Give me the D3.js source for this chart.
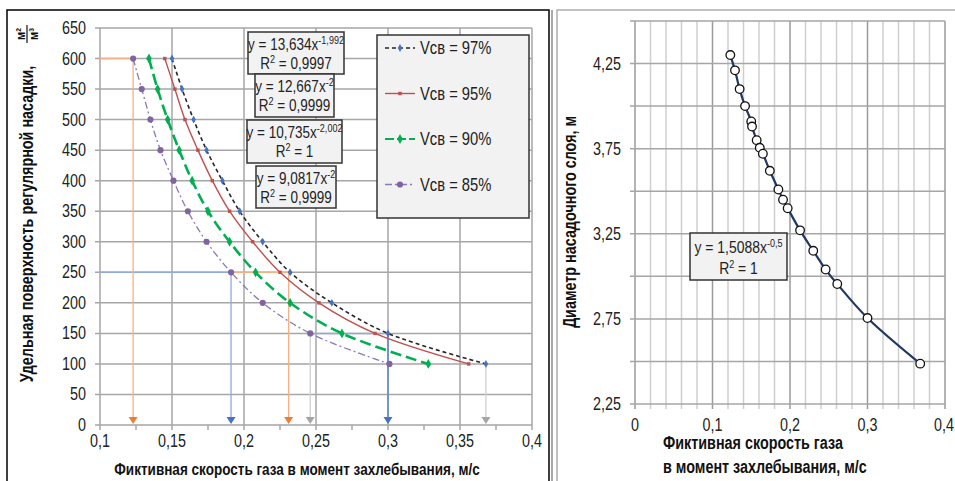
<!DOCTYPE html>
<html>
<head>
<meta charset="utf-8">
<script src="https://cdn.jsdelivr.net/npm/d3@7"></script>
<style>
  body { margin: 0; background: #fff; }
  svg { display: block; font-family: 'Liberation Sans', Arial, sans-serif; }
</style>
</head>
<body>
<div id="chart"></div>
<script>
// Left chart: specific surface vs flooding velocity
const surfaceLevels = [600, 550, 500, 450, 400, 350, 300, 250, 200, 150, 100];
const v97 = [0.150, 0.157, 0.165, 0.174, 0.185, 0.197, 0.213, 0.232, 0.261, 0.300, 0.368];
const v95 = [0.145, 0.152, 0.159, 0.168, 0.178, 0.190, 0.206, 0.225, 0.252, 0.291, 0.356];
const v90 = [0.134, 0.140, 0.147, 0.155, 0.164, 0.175, 0.190, 0.208, 0.232, 0.268, 0.328];
const v85 = [0.123, 0.129, 0.135, 0.142, 0.151, 0.161, 0.174, 0.191, 0.213, 0.246, 0.301];
const seriesNames = ['Vсв = 97%', 'Vсв = 95%', 'Vсв = 90%', 'Vсв = 85%'];
const eqCoef = ['13,634', '12,667', '10,735', '9,0817'];
const eqPow = ['-1,992', '-2', '-2,002', '-2'];
const eqR2 = ['0,9997', '0,9999', '1', '0,9999'];
const leftXTicks = [0.1, 0.15, 0.2, 0.25, 0.3, 0.35, 0.4];
const leftYTicks = [0, 50, 100, 150, 200, 250, 300, 350, 400, 450, 500, 550, 600, 650];

// guide lines (drop lines to the x axis)
const guideX = [0.123, 0.191, 0.231, 0.246, 0.300, 0.368];
const guideFromY = [600, 250, 250, 150, 150, 100];
const hGuideY = [600, 250, 250, 150];
const hGuideX0 = [0.1, 0.1, 0.191, 0.246];
const hGuideX1 = [0.123, 0.191, 0.232, 0.300];

// Right chart: bed diameter vs flooding velocity
const flowX = [0.123, 0.129, 0.135, 0.142, 0.150, 0.151, 0.157, 0.161, 0.165, 0.174, 0.185, 0.191, 0.197, 0.213, 0.230, 0.246, 0.261, 0.300, 0.368];
const diamY = [4.30, 4.21, 4.10, 4.00, 3.91, 3.88, 3.80, 3.755, 3.72, 3.62, 3.51, 3.45, 3.40, 3.27, 3.15, 3.04, 2.955, 2.755, 2.487];
const rightXTicks = [0, 0.1, 0.2, 0.3, 0.4];
const rightYLabels = [2.25, 2.75, 3.25, 3.75, 4.25];

const comma = d => String(d).replace('.', ',');
const orange = '#ed7d31', blue = '#4472c4', gray = '#a5a5a5';
const gridColor = '#a6a6a6';
const NARROW = 0.82; // Arial -> Arial Narrow look

// text helper: narrowed Liberation Sans
function txt(parent, x, y, str, o = {}) {
  const t = parent.append('text')
    .attr('transform', `translate(${x},${y})${o.rotate ? ' rotate(-90)' : ''} scale(${NARROW},1)`)
    .attr('text-anchor', o.anchor || 'start')
    .attr('font-size', o.size || 16)
    .attr('font-weight', o.bold ? 'bold' : null)
    .attr('fill', o.fill || '#222');
  if (str != null) t.text(str);
  return t;
}

const svg = d3.select('#chart').append('svg')
  .attr('width', 955).attr('height', 481);

svg.append('rect').attr('width', 955).attr('height', 481).attr('fill', '#fff');

// frames
svg.append('rect').attr('x', 7).attr('y', 10).attr('width', 542).attr('height', 480)
  .attr('fill', 'none').attr('stroke', '#000').attr('stroke-width', 1.5);
svg.append('line').attr('x1', 552).attr('x2', 552).attr('y1', 10).attr('y2', 481)
  .attr('stroke', '#555').attr('stroke-width', 1);
svg.append('rect').attr('x', 557).attr('y', 10).attr('width', 410).attr('height', 480)
  .attr('fill', 'none').attr('stroke', '#999').attr('stroke-width', 1.2);

// ================= LEFT CHART =================
const x1 = d3.scaleLinear().domain([0.1, 0.4]).range([100, 532]);
const y1 = d3.scaleLinear().domain([0, 650]).range([425, 28]);
const L = svg.append('g');

// grid
L.append('g').selectAll('line').data(leftYTicks).join('line')
  .attr('x1', x1(0.1) - 5).attr('x2', x1(0.4))
  .attr('y1', d => y1(d)).attr('y2', d => y1(d))
  .attr('stroke', gridColor).attr('stroke-width', 1.5);
L.append('g').selectAll('line').data(leftXTicks).join('line')
  .attr('x1', d => x1(d)).attr('x2', d => x1(d))
  .attr('y1', y1(650)).attr('y2', y1(0) + 5)
  .attr('stroke', gridColor).attr('stroke-width', 1.5);
L.append('g').selectAll('line').data(d3.range(0.125, 0.4, 0.05)).join('line')
  .attr('x1', d => x1(d)).attr('x2', d => x1(d))
  .attr('y1', y1(0)).attr('y2', y1(0) + 5)
  .attr('stroke', gridColor).attr('stroke-width', 1.5);

// tick labels
leftYTicks.forEach(d => txt(L, 86, y1(d) + 6, d, { anchor: 'end', size: 17.5 }));
leftXTicks.forEach(d => txt(L, x1(d), 447, comma(d), { anchor: 'middle', size: 17.5 }));

// axis titles
txt(L, 297, 475, 'Фиктивная скорость газа в момент захлебывания, м/с',
  { anchor: 'middle', size: 16.5, bold: true, fill: '#111' });
txt(L, 33, 224, 'Удельная поверхность регулярной насадки,',
  { anchor: 'middle', size: 17.5, bold: true, fill: '#111', rotate: true });
const frac = L.append('g').attr('transform', 'translate(27,34) rotate(-90)');
frac.append('line').attr('x1', -9).attr('x2', 9).attr('y1', 0).attr('y2', 0)
  .attr('stroke', '#111').attr('stroke-width', 1.2);
txt(frac, 0, -2, 'м²', { anchor: 'middle', size: 13.5, bold: true, fill: '#111' });
txt(frac, 0, 11, 'м³', { anchor: 'middle', size: 13.5, bold: true, fill: '#111' });

// guide lines
const guideColors = [orange, blue, orange, gray, blue, gray];
const guideLineColors = ['#f4b183', '#8faadc', '#f4b183', '#d0d0d0', '#6d8fcf', '#d0d0d0'];
const hGuideColors = ['#f4b183', '#8faadc', '#f4b183', '#8faadc'];
L.append('g').selectAll('line').data(hGuideY).join('line')
  .attr('x1', (d, i) => x1(hGuideX0[i])).attr('x2', (d, i) => x1(hGuideX1[i]))
  .attr('y1', d => y1(d)).attr('y2', d => y1(d))
  .attr('stroke', (d, i) => hGuideColors[i]).attr('stroke-width', 1.5);
L.append('g').selectAll('line').data(guideX).join('line')
  .attr('x1', d => x1(d)).attr('x2', d => x1(d))
  .attr('y1', (d, i) => y1(guideFromY[i])).attr('y2', y1(0) - 6)
  .attr('stroke', (d, i) => guideLineColors[i]).attr('stroke-width', (d, i) => i === 4 ? 1.8 : 1.3);
L.append('g').selectAll('path').data(guideX).join('path')
  .attr('d', d => `M${x1(d) - 4.5},${y1(0) - 8}L${x1(d) + 4.5},${y1(0) - 8}L${x1(d)},${y1(0) - 1}Z`)
  .attr('fill', (d, i) => guideColors[i]);

// series
const series = [v97, v95, v90, v85];
const lineColors = ['#262626', '#c0504d', '#00b050', '#8c78b8'];
const lineDash = ['4,3', null, '11,5', '7,3,2,3'];
const lineWidth = [1.6, 1.4, 2.6, 1.3];
const markColors = ['#4472c4', '#c0504d', '#00b050', '#8064a2'];
const markSymbols = [d3.symbolDiamond, d3.symbolSquare, d3.symbolDiamond, d3.symbolCircle];
const markSizes = [18, 12, 28, 30];

const curve = d3.line()
  .x(d => x1(d[0])).y(d => y1(d[1]))
  .curve(d3.curveCatmullRom.alpha(0.5));

series.slice().reverse().forEach((vals, ri) => {
  const i = series.length - 1 - ri;
  const pts = vals.map((v, k) => [v, surfaceLevels[k]]);
  L.append('path').datum(pts).attr('d', curve)
    .attr('fill', 'none').attr('stroke', lineColors[i])
    .attr('stroke-width', lineWidth[i]).attr('stroke-dasharray', lineDash[i]);
  L.append('g').selectAll('path').data(pts).join('path')
    .attr('transform', d => `translate(${x1(d[0])},${y1(d[1])})`)
    .attr('d', d3.symbol().type(markSymbols[i]).size(markSizes[i]))
    .attr('fill', markColors[i]);
});

// equation boxes
const boxes = [[248, 32, 96, 42], [255, 74, 79, 43], [247, 120, 95, 43], [256, 166, 80, 42]];
eqCoef.forEach((c, i) => {
  const [bx, by, bw, bh] = boxes[i];
  const g = L.append('g');
  g.append('rect').attr('x', bx).attr('y', by).attr('width', bw).attr('height', bh)
    .attr('fill', '#f2f2f2').attr('stroke', '#333').attr('stroke-width', 1.5);
  const t1 = txt(g, bx + bw / 2, by + 18, null, { anchor: 'middle', size: 16.5 });
  t1.append('tspan').text(`y = ${c}x`);
  t1.append('tspan').attr('dy', -6).attr('font-size', 11).text(eqPow[i]);
  const t2 = txt(g, bx + bw / 2, by + 37, null, { anchor: 'middle', size: 16.5 });
  t2.append('tspan').text('R');
  t2.append('tspan').attr('dy', -6).attr('font-size', 11).text('2');
  t2.append('tspan').attr('dy', 6).text(` = ${eqR2[i]}`);
});

// legend
const lg = L.append('g');
lg.append('rect').attr('x', 377).attr('y', 35).attr('width', 152).attr('height', 183)
  .attr('fill', '#f2f2f2').attr('stroke', '#333').attr('stroke-width', 1.5);
seriesNames.forEach((name, i) => {
  const ly = 48 + i * 45.5;
  lg.append('line').attr('x1', 385).attr('x2', 415).attr('y1', ly).attr('y2', ly)
    .attr('stroke', lineColors[i]).attr('stroke-width', Math.min(lineWidth[i], 2.2))
    .attr('stroke-dasharray', i === 2 ? '9,3' : lineDash[i]);
  lg.append('path').attr('transform', `translate(400,${ly})`)
    .attr('d', d3.symbol().type(markSymbols[i]).size(markSizes[i]))
    .attr('fill', markColors[i]);
  txt(lg, 420, ly + 6, name, { size: 18 });
});

// ================= RIGHT CHART =================
const x2 = d3.scaleLinear().domain([0, 0.4]).range([635, 945]);
const y2 = d3.scaleLinear().domain([2.25, 4.5]).range([404, 21]);
const R = svg.append('g');

R.append('g').selectAll('line').data(d3.range(0, 0.4001, 0.02)).join('line')
  .attr('x1', d => x2(d)).attr('x2', d => x2(d))
  .attr('y1', y2(4.5)).attr('y2', y2(2.25) + 5)
  .attr('stroke', (d, i) => i % 5 === 0 ? '#9a9a9a' : '#cfcfcf').attr('stroke-width', 1.5);
R.append('g').selectAll('line').data(d3.range(2.25, 4.501, 0.25)).join('line')
  .attr('x1', x2(0) - 5).attr('x2', x2(0.4))
  .attr('y1', d => y2(d)).attr('y2', d => y2(d))
  .attr('stroke', gridColor).attr('stroke-width', 1.5);

rightYLabels.forEach(d => txt(R, 621, y2(d) + 6, comma(d), { anchor: 'end', size: 17.5 }));
rightXTicks.forEach(d => txt(R, Math.min(x2(d), 944), 431, comma(d), { anchor: 'middle', size: 17.5 }));

txt(R, 576, 222, 'Диаметр насадочного слоя, м',
  { anchor: 'middle', size: 17.5, bold: true, fill: '#111', rotate: true });
txt(R, 663, 449, 'Фиктивная скорость газа', { size: 17.5, bold: true, fill: '#111' });
txt(R, 663, 473, 'в момент захлебывания, м/с', { size: 17.5, bold: true, fill: '#111' });

const rpts = flowX.map((v, k) => [v, diamY[k]]);
R.append('path').datum(rpts)
  .attr('d', d3.line().x(d => x2(d[0])).y(d => y2(d[1])).curve(d3.curveCatmullRom.alpha(0.5)))
  .attr('fill', 'none').attr('stroke', '#1f3864').attr('stroke-width', 2.2);
R.append('g').selectAll('circle').data(rpts).join('circle')
  .attr('cx', d => x2(d[0])).attr('cy', d => y2(d[1])).attr('r', 4.3)
  .attr('fill', '#fff').attr('stroke', '#111').attr('stroke-width', 1.3);

const rb = R.append('g');
rb.append('rect').attr('x', 690).attr('y', 233).attr('width', 97).attr('height', 47)
  .attr('fill', '#f2f2f2').attr('stroke', '#333').attr('stroke-width', 1.5);
const r1 = txt(rb, 738.5, 253, null, { anchor: 'middle', size: 17 });
r1.append('tspan').text('y = 1,5088x');
r1.append('tspan').attr('dy', -6).attr('font-size', 11).text('-0,5');
const r2 = txt(rb, 738.5, 274, null, { anchor: 'middle', size: 17 });
r2.append('tspan').text('R');
r2.append('tspan').attr('dy', -6).attr('font-size', 11).text('2');
r2.append('tspan').attr('dy', 6).text(' = 1');
</script>
</body>
</html>
